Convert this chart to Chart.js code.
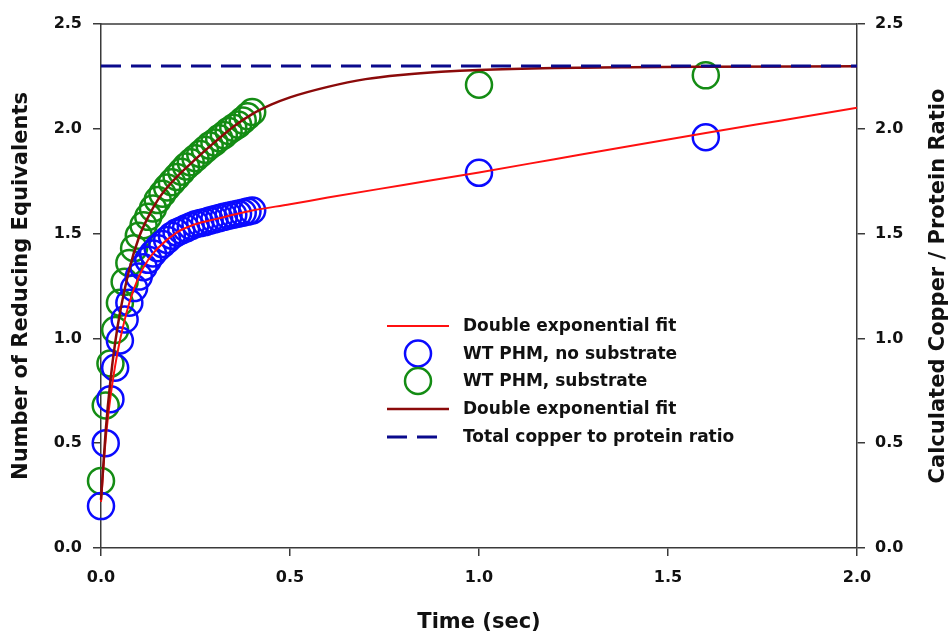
<!DOCTYPE html>
<html>
<head>
<meta charset="utf-8">
<script src="https://cdn.jsdelivr.net/npm/chart.js@4.4.0/dist/chart.umd.min.js"></script>
<style>
  html, body { margin: 0; padding: 0; background: #fff; }
</style>
</head>
<body>
<canvas id="myChart" width="952" height="635"></canvas>
<script>
// measured points (time in sec)
let sampleTimes = [0, 0.0125, 0.025, 0.0375, 0.05, 0.0625, 0.075, 0.0875, 0.1, 0.1125,
  0.125, 0.1375, 0.15, 0.1625, 0.175, 0.1875, 0.2, 0.2125, 0.225, 0.2375,
  0.25, 0.2625, 0.275, 0.2875, 0.3, 0.3125, 0.325, 0.3375, 0.35, 0.3625,
  0.375, 0.3875, 0.4, 1.0, 1.6];
let noSubstrate = [0.20, 0.50, 0.71, 0.86, 0.99, 1.09, 1.17, 1.24, 1.295, 1.34,
  1.375, 1.405, 1.43, 1.45, 1.47, 1.49, 1.505, 1.515, 1.525, 1.535,
  1.545, 1.55, 1.555, 1.562, 1.568, 1.574, 1.58, 1.585, 1.59, 1.595,
  1.60, 1.605, 1.61, 1.79, 1.96];
let withSubstrate = [0.32, 0.68, 0.88, 1.04, 1.17, 1.27, 1.36, 1.43, 1.49, 1.54,
  1.58, 1.62, 1.66, 1.69, 1.72, 1.745, 1.77, 1.795, 1.82, 1.84,
  1.86, 1.88, 1.90, 1.92, 1.935, 1.955, 1.97, 1.99, 2.005, 2.02,
  2.04, 2.06, 2.08, 2.21, 2.255];

// fit curves
let fitNoSubTimes = [0, 0.0125, 0.025, 0.0375, 0.05, 0.075, 0.1, 0.125, 0.15, 0.2,
  0.25, 0.3, 0.35, 0.4, 0.5, 0.6, 0.8, 1.0, 1.2, 1.4, 1.6, 1.8, 2.0];
let fitNoSubValues = [0.22, 0.52, 0.72, 0.87, 0.99, 1.17, 1.295, 1.375, 1.43, 1.505,
  1.545, 1.568, 1.59, 1.61, 1.64, 1.672, 1.732, 1.792, 1.855, 1.918, 1.98, 2.04, 2.10];
let fitSubTimes = [0, 0.0125, 0.025, 0.0375, 0.05, 0.075, 0.1, 0.125, 0.15, 0.175,
  0.2, 0.25, 0.3, 0.35, 0.4, 0.45, 0.5, 0.6, 0.7, 0.8, 0.9, 1.0, 1.2, 1.4, 1.6, 2.0];
let fitSubValues = [0.23, 0.56, 0.80, 0.98, 1.12, 1.33, 1.48, 1.58, 1.66, 1.72,
  1.77, 1.855, 1.935, 2.01, 2.07, 2.115, 2.15, 2.20, 2.237, 2.258, 2.272, 2.281, 2.29, 2.294, 2.296, 2.298];

let ratioTimes = [0, 2.0];
let ratioValues = [2.3, 2.3];

let yTicks = [0, 0.5, 1.0, 1.5, 2.0, 2.5];
let xTicks = [0, 0.5, 1.0, 1.5, 2.0];

function pairs(xs, ys) {
  return xs.map((x, i) => ({ x: x, y: ys[i] }));
}

const FONT = "'DejaVu Sans', sans-serif";
const AXIS = '#3a3a3a';

let chartData = {
  datasets: [
    {
      label: 'Double exponential fit',
      data: pairs(fitNoSubTimes, fitNoSubValues),
      showLine: true, pointRadius: 0,
      borderColor: '#ff1010', borderWidth: 2,
      cubicInterpolationMode: 'monotone', order: 2
    },
    {
      label: 'WT PHM, no substrate',
      data: pairs(sampleTimes, noSubstrate),
      showLine: false, pointRadius: 13, pointBorderWidth: 2.5,
      borderColor: '#0a0aff', backgroundColor: 'rgba(0,0,0,0)', order: 3
    },
    {
      label: 'WT PHM, substrate',
      data: pairs(sampleTimes, withSubstrate),
      showLine: false, pointRadius: 13, pointBorderWidth: 2.5,
      borderColor: '#148c14', backgroundColor: 'rgba(0,0,0,0)', order: 4
    },
    {
      label: 'Double exponential fit',
      data: pairs(fitSubTimes, fitSubValues),
      showLine: true, pointRadius: 0,
      borderColor: '#8b0a0a', borderWidth: 2.5,
      cubicInterpolationMode: 'monotone', order: 1
    },
    {
      label: 'Total copper to protein ratio',
      data: pairs(ratioTimes, ratioValues),
      showLine: true, pointRadius: 0,
      borderColor: '#0a0a8c', borderWidth: 3, borderDash: [20, 10], order: 0
    }
  ]
};

// legend drawn inside the plot, like the original
const insideLegend = {
  id: 'insideLegend',
  afterDraw(chart) {
    const ctx = chart.ctx;
    const rows = [326, 353.5, 381, 409, 437];
    ctx.save();
    ctx.font = "bold 17px " + FONT;
    ctx.textBaseline = 'middle';
    ctx.textAlign = 'left';
    chart.data.datasets.forEach((ds, i) => {
      const y = rows[i];
      ctx.strokeStyle = ds.borderColor;
      if (ds.showLine) {
        ctx.lineWidth = ds.borderWidth;
        ctx.setLineDash(ds.borderDash || []);
        ctx.beginPath();
        ctx.moveTo(387, y);
        ctx.lineTo(ds.borderDash ? 438 : 449, y);
        ctx.stroke();
        ctx.setLineDash([]);
      } else {
        ctx.lineWidth = ds.pointBorderWidth;
        ctx.beginPath();
        ctx.arc(418, y, 13, 0, Math.PI * 2);
        ctx.stroke();
      }
      ctx.fillStyle = '#111';
      ctx.fillText(ds.label, 463, y + 1);
    });
    ctx.restore();
  }
};

// top frame line and right-hand title (reads bottom to top)
const frameAndTitle = {
  id: 'frameAndTitle',
  afterDraw(chart) {
    const ctx = chart.ctx;
    const a = chart.chartArea;
    ctx.save();
    ctx.strokeStyle = AXIS;
    ctx.lineWidth = 1.5;
    ctx.beginPath();
    ctx.moveTo(a.left, a.top);
    ctx.lineTo(a.right, a.top);
    ctx.stroke();
    ctx.translate(939, (a.top + a.bottom) / 2);
    ctx.rotate(-Math.PI / 2);
    ctx.font = "bold 21px " + FONT;
    ctx.fillStyle = '#111';
    ctx.textAlign = 'center';
    ctx.textBaseline = 'middle';
    ctx.fillText('Calculated Copper / Protein Ratio', 0, 0);
    ctx.restore();
  }
};

function axisCommon(min, max, ticks) {
  return {
    type: 'linear', min: min, max: max,
    afterBuildTicks: (s) => { s.ticks = ticks.map(v => ({ value: v })); },
    ticks: {
      color: '#111', font: { family: FONT, size: 16, weight: 'bold' },
      callback: (v) => Number(v).toFixed(1)
    },
    grid: { drawOnChartArea: false, drawTicks: true, tickLength: 8, color: AXIS, lineWidth: 1.5 },
    border: { display: true, color: AXIS, width: 1.5 }
  };
}

let xAxis = axisCommon(0, 2, xTicks);
xAxis.position = 'bottom';
xAxis.ticks.padding = 12;
xAxis.ticks.maxRotation = 0;
xAxis.title = { display: true, text: 'Time (sec)', color: '#111',
  font: { family: FONT, size: 21, weight: 'bold' }, padding: { top: 0, bottom: 0 } };
xAxis.afterFit = (s) => { s.height = 87; };

let yAxis = axisCommon(0, 2.5, yTicks);
yAxis.position = 'left';
yAxis.ticks.padding = 11;
yAxis.title = { display: true, text: 'Number of Reducing Equivalents', color: '#111',
  font: { family: FONT, size: 21, weight: 'bold' }, padding: { top: 9, bottom: 0 } };
yAxis.afterFit = (s) => { s.width = 101; };

let y2Axis = axisCommon(0, 2.5, yTicks);
y2Axis.position = 'right';
y2Axis.ticks.padding = 10;
y2Axis.afterFit = (s) => { s.width = 95; };

let ctx = document.getElementById('myChart');
let myChart = new Chart(ctx, {
  type: 'scatter',
  data: chartData,
  options: {
    responsive: false,
    animation: false,
    clip: false,
    layout: { padding: { top: 24, left: 0, right: 0, bottom: 0 } },
    plugins: { legend: { display: false }, tooltip: { enabled: false } },
    scales: { x: xAxis, y: yAxis, y2: y2Axis }
  },
  plugins: [insideLegend, frameAndTitle]
});
</script>
</body>
</html>
